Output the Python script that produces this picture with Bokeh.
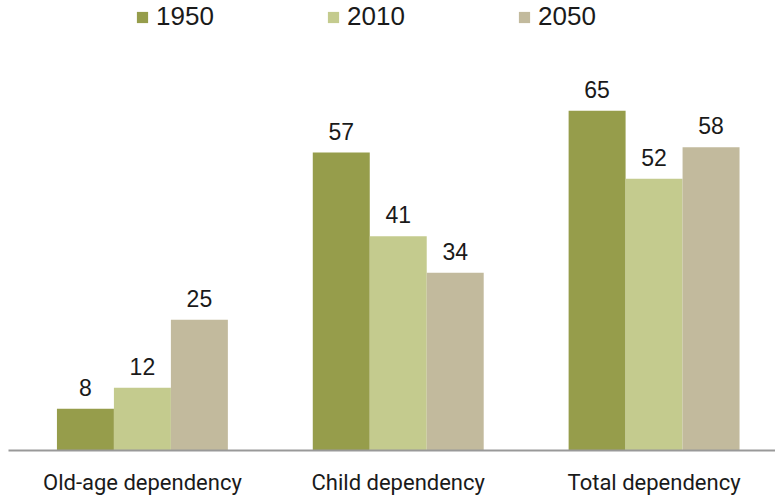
from bokeh.plotting import figure
from bokeh.models import ColumnDataSource, FixedTicker, Legend, LegendItem, Range1d
from bokeh.embed import file_html
from bokeh.resources import INLINE
from bokeh.core.properties import value

categories = ["Old-age dependency", "Child dependency", "Total dependency"]
years = ["1950", "2010", "2050"]
v1950 = [8, 57, 65]
v2010 = [12, 41, 52]
v2050 = [25, 34, 58]
colors = ["#969D4B", "#C4CB8E", "#C2BA9D"]

series = [v1950, v2010, v2050]
bar_w = 0.2227
offsets = [-bar_w, 0.0, bar_w]

p = figure(width=775, height=497, output_backend="svg", toolbar_location=None,
           x_range=Range1d(-0.5234, 2.4746), y_range=Range1d(0, 86.1),
           min_border_left=8, min_border_right=0, min_border_top=0, min_border_bottom=44)

renderers = []
for vals, off, col, yr in zip(series, offsets, colors, years):
    xs = [i + off for i in range(len(categories))]
    src = ColumnDataSource(dict(x=xs, top=vals, label=[str(v) for v in vals]))
    r = p.vbar(x="x", top="top", width=bar_w, color=col, line_color=None, source=src)
    renderers.append((yr, r))
    p.text(x="x", y="top", text="label", source=src, text_align="center",
           text_baseline="bottom", y_offset=-13, text_font=value("Liberation Sans"),
           text_font_size="23px", text_color="#1a1a1a")

legend = Legend(items=[LegendItem(label=yr, renderers=[r]) for yr, r in renderers],
                orientation="horizontal", location=(127, 418), padding=0, margin=0,
                spacing=10, label_width=160, label_standoff=7, glyph_width=14,
                glyph_height=14, border_line_color=None, background_fill_alpha=0,
                label_text_font="Liberation Sans", label_text_font_size="26px",
                label_text_color="#1a1a1a")
p.add_layout(legend)

p.yaxis.visible = False
p.xgrid.visible = False
p.ygrid.visible = False
p.outline_line_color = None
p.xaxis.ticker = FixedTicker(ticks=[0, 1, 2])
p.xaxis.major_label_overrides = {i: c for i, c in enumerate(categories)}
p.xaxis.major_tick_line_color = None
p.xaxis.minor_tick_line_color = None
p.xaxis.axis_line_color = "#999999"
p.xaxis.axis_line_width = 2
p.xaxis.major_label_standoff = 13
p.xaxis.major_label_text_font = "Roboto"
p.xaxis.major_label_text_font_size = "22px"
p.xaxis.major_label_text_color = "#1a1a1a"

open("out.html", "w").write(file_html(p, INLINE))
